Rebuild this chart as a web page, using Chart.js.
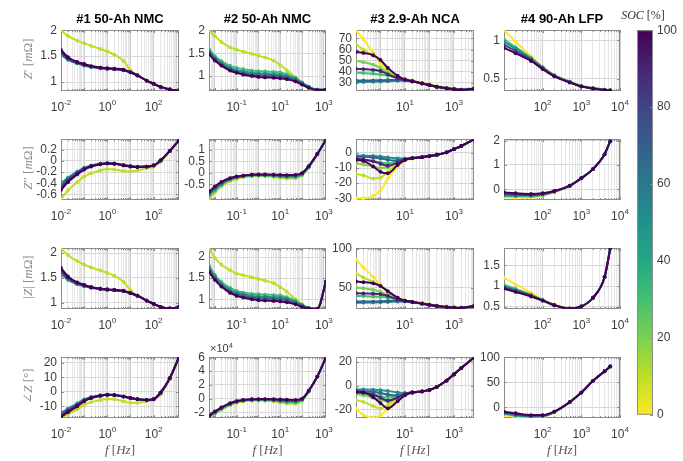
<!DOCTYPE html>
<html>
<head>
<meta charset="utf-8">
<title>Impedance spectra vs SOC</title>
<script src="https://cdn.jsdelivr.net/npm/chart.js@4.4.1/dist/chart.umd.min.js"></script>
<style>
  html, body { margin: 0; padding: 0; background: #fff; }
  #fig { position: relative; width: 683px; height: 461px; overflow: hidden; }
  #fig canvas { position: absolute; }
  .title { position: absolute; top: 12px; transform: translateX(-50%); font: bold 13px/13px "Liberation Sans", Arial, sans-serif; color: #000; white-space: nowrap; }
  .ylab { position: absolute; left: 27px; transform: translate(-50%, -50%) rotate(-90deg); font: 13px/13px "Liberation Serif", "DejaVu Serif", serif; color: #8c8c8c; white-space: nowrap; }
  .xlab { position: absolute; top: 443px; transform: translateX(-50%); font: 13px/13px "Liberation Serif", "DejaVu Serif", serif; color: #555; white-space: nowrap; }
  .cblab { position: absolute; left: 643px; top: 15px; transform: translate(-50%, -50%); font: 12px/12px "Liberation Serif", "DejaVu Serif", serif; color: #333; white-space: nowrap; }
  .mult { position: absolute; left: 210px; top: 343px; font: 11px/11px "Liberation Sans", Arial, sans-serif; color: #3c3c3c; white-space: nowrap; }
  .mult span { position: relative; top: -4px; font-size: 7.5px; }
</style>
</head>
<body>
<div id="fig"></div>
<script>
// ---- cell #1, 50-Ah NMC ----
const freq1 = [0.01, 0.02, 0.05, 0.1, 0.2, 0.5, 1, 2, 5, 10, 20, 50, 100, 200, 500, 1250];
const soc1 = [10, 50, 70, 90, 100];
const re1 = [
  [2.00, 1.89, 1.80, 1.75, 1.70, 1.64, 1.59, 1.53, 1.41, 1.23, 1.13, 1.03, 0.97, 0.91, 0.86, 0.83],
  [1.53, 1.43, 1.36, 1.32, 1.29, 1.27, 1.26, 1.25, 1.23, 1.19, 1.13, 1.03, 0.97, 0.91, 0.86, 0.83],
  [1.56, 1.45, 1.37, 1.33, 1.30, 1.27, 1.26, 1.25, 1.23, 1.19, 1.13, 1.03, 0.97, 0.91, 0.86, 0.83],
  [1.59, 1.47, 1.38, 1.34, 1.30, 1.28, 1.26, 1.25, 1.23, 1.19, 1.13, 1.03, 0.97, 0.91, 0.86, 0.83],
  [1.62, 1.48, 1.39, 1.35, 1.31, 1.28, 1.27, 1.26, 1.24, 1.19, 1.13, 1.03, 0.97, 0.91, 0.86, 0.83]
];
const im1 = [
  [-0.68, -0.53, -0.38, -0.28, -0.22, -0.17, -0.145, -0.155, -0.18, -0.19, -0.17, -0.13, -0.10, -0.02, 0.18, 0.37],
  [-0.40, -0.30, -0.19, -0.12, -0.08, -0.05, -0.04, -0.045, -0.07, -0.09, -0.10, -0.10, -0.08, 0.01, 0.18, 0.37],
  [-0.45, -0.33, -0.21, -0.135, -0.09, -0.055, -0.042, -0.047, -0.075, -0.095, -0.105, -0.10, -0.08, 0.01, 0.18, 0.37],
  [-0.49, -0.36, -0.23, -0.145, -0.095, -0.058, -0.044, -0.048, -0.078, -0.098, -0.108, -0.10, -0.08, 0.01, 0.18, 0.37],
  [-0.52, -0.38, -0.24, -0.155, -0.10, -0.06, -0.045, -0.05, -0.08, -0.10, -0.11, -0.10, -0.08, 0.01, 0.18, 0.37]
];
const mag1 = [
  [2.10, 1.96, 1.84, 1.77, 1.71, 1.65, 1.60, 1.54, 1.42, 1.25, 1.14, 1.04, 0.975, 0.91, 0.88, 0.91],
  [1.58, 1.46, 1.37, 1.33, 1.30, 1.27, 1.26, 1.25, 1.23, 1.19, 1.14, 1.04, 0.975, 0.91, 0.88, 0.91],
  [1.62, 1.49, 1.39, 1.34, 1.31, 1.28, 1.26, 1.25, 1.23, 1.19, 1.14, 1.04, 0.975, 0.91, 0.88, 0.91],
  [1.66, 1.51, 1.40, 1.35, 1.31, 1.28, 1.26, 1.25, 1.23, 1.19, 1.14, 1.04, 0.975, 0.91, 0.88, 0.91],
  [1.70, 1.53, 1.41, 1.36, 1.31, 1.28, 1.27, 1.26, 1.24, 1.19, 1.14, 1.04, 0.975, 0.91, 0.88, 0.91]
];
const ph1 = [
  [-18, -15.5, -12, -9, -7, -5.5, -4.8, -5, -6.5, -7.5, -7.5, -6.5, -5.5, -2, 9, 24],
  [-14.5, -11.5, -8, -5.2, -3.5, -2.3, -1.8, -2, -3, -4.2, -5, -5.5, -5, -0.5, 9.5, 24],
  [-15.5, -12.3, -8.7, -5.7, -3.8, -2.5, -1.9, -2.1, -3.1, -4.2, -5, -5.5, -5, -0.5, 9.5, 24],
  [-16.8, -13.3, -9.4, -6.2, -4.1, -2.6, -2, -2.2, -3.2, -4.2, -5, -5.5, -5, -0.5, 9.5, 24],
  [-17.5, -14, -10, -6.5, -4.3, -2.7, -2, -2.2, -3.2, -4.2, -5, -5.5, -5, -0.5, 9.5, 24]
];

// ---- cell #2, 50-Ah NMC ----
const freq2 = [0.0054, 0.01, 0.02, 0.05, 0.1, 0.2, 0.5, 1, 2, 5, 10, 20, 50, 100, 200, 500, 1250];
const soc2 = [10, 30, 50, 70, 100];
const re2 = [
  [2.00, 1.88, 1.75, 1.63, 1.58, 1.54, 1.49, 1.45, 1.41, 1.34, 1.24, 1.13, 0.97, 0.85, 0.76, 0.70, 0.70],
  [1.60, 1.44, 1.33, 1.23, 1.18, 1.15, 1.12, 1.11, 1.10, 1.09, 1.08, 1.04, 0.96, 0.86, 0.77, 0.70, 0.70],
  [1.56, 1.40, 1.29, 1.18, 1.13, 1.10, 1.07, 1.06, 1.05, 1.04, 1.03, 1.00, 0.94, 0.85, 0.76, 0.70, 0.70],
  [1.52, 1.37, 1.26, 1.15, 1.10, 1.06, 1.03, 1.02, 1.01, 1.00, 0.99, 0.97, 0.91, 0.83, 0.75, 0.70, 0.70],
  [1.48, 1.34, 1.23, 1.12, 1.07, 1.03, 1.00, 0.98, 0.97, 0.96, 0.95, 0.93, 0.88, 0.81, 0.74, 0.69, 0.70]
];
const im2 = [
  [-1.15, -0.87, -0.60, -0.36, -0.26, -0.19, -0.15, -0.14, -0.15, -0.18, -0.22, -0.25, -0.24, -0.12, 0.22, 0.80, 1.45],
  [-1.02, -0.78, -0.53, -0.31, -0.22, -0.16, -0.12, -0.11, -0.12, -0.14, -0.17, -0.20, -0.19, -0.08, 0.24, 0.81, 1.45],
  [-0.95, -0.72, -0.49, -0.28, -0.20, -0.14, -0.10, -0.09, -0.10, -0.12, -0.14, -0.16, -0.15, -0.05, 0.26, 0.82, 1.45],
  [-0.89, -0.66, -0.45, -0.26, -0.18, -0.13, -0.09, -0.08, -0.08, -0.10, -0.11, -0.13, -0.12, -0.03, 0.27, 0.82, 1.45],
  [-0.83, -0.60, -0.40, -0.23, -0.16, -0.12, -0.08, -0.07, -0.07, -0.08, -0.09, -0.10, -0.09, -0.01, 0.29, 0.83, 1.45]
];
const mag2 = [
  [2.20, 1.98, 1.82, 1.69, 1.61, 1.57, 1.52, 1.48, 1.44, 1.38, 1.29, 1.18, 1.00, 0.88, 0.80, 0.78, 1.42],
  [1.80, 1.58, 1.41, 1.27, 1.20, 1.16, 1.13, 1.12, 1.11, 1.10, 1.09, 1.05, 0.97, 0.87, 0.80, 0.78, 1.42],
  [1.75, 1.54, 1.37, 1.22, 1.16, 1.12, 1.08, 1.07, 1.06, 1.05, 1.04, 1.01, 0.94, 0.86, 0.79, 0.78, 1.42],
  [1.70, 1.50, 1.33, 1.18, 1.12, 1.08, 1.04, 1.03, 1.02, 1.01, 1.00, 0.98, 0.91, 0.84, 0.79, 0.77, 1.42],
  [1.65, 1.46, 1.30, 1.15, 1.08, 1.04, 1.00, 0.98, 0.97, 0.96, 0.95, 0.93, 0.88, 0.82, 0.78, 0.77, 1.42]
];
// phase of cell #2 is given in units of 1e4
const ph2 = [
  [-2.75, -2.2, -1.6, -0.95, -0.6, -0.4, -0.3, -0.28, -0.3, -0.4, -0.55, -0.7, -0.75, -0.3, 1.0, 3.2, 6.0],
  [-2.65, -2.1, -1.5, -0.85, -0.5, -0.3, -0.2, -0.18, -0.2, -0.28, -0.4, -0.5, -0.55, -0.2, 1.05, 3.2, 6.0],
  [-2.6, -2.0, -1.4, -0.78, -0.45, -0.26, -0.15, -0.13, -0.14, -0.2, -0.3, -0.38, -0.4, -0.12, 1.1, 3.2, 6.0],
  [-2.55, -1.95, -1.35, -0.72, -0.4, -0.22, -0.12, -0.1, -0.1, -0.14, -0.2, -0.26, -0.28, -0.06, 1.12, 3.2, 6.0],
  [-2.45, -1.85, -1.25, -0.65, -0.35, -0.18, -0.08, -0.06, -0.06, -0.08, -0.12, -0.16, -0.18, 0.0, 1.15, 3.2, 6.0]
];

// ---- cell #3, 2.9-Ah NCA ----
const freq3 = [0.1, 0.2, 0.5, 1, 2, 5, 10, 20, 50, 100, 200, 500, 1000, 2000, 6600];
const soc3 = [0, 10, 20, 30, 50, 70, 90, 100];
const re3 = [
  [77, 69.5, 57, 47.7, 41, 35.5, 33, 31.5, 29.5, 28, 26.6, 25.2, 24.4, 23.8, 25],
  [64.9, 60, 54.3, 49.8, 42, 36, 33.4, 31.9, 29.9, 28.4, 27, 25.6, 24.8, 24.2, 25.3],
  [49.8, 48.6, 46.3, 43.4, 39.2, 35, 32.8, 31.3, 29.4, 27.9, 26.4, 25, 24.2, 23.6, 24.7],
  [39.2, 38.8, 38.2, 37.5, 36.3, 34, 32.5, 31.2, 29.3, 27.8, 26.3, 24.9, 24.1, 23.5, 24.6],
  [30.5, 30.6, 30.8, 31, 31.3, 31.8, 32, 31, 29.2, 27.8, 26.3, 24.9, 24.1, 23.5, 24.6],
  [32, 32, 32, 32.2, 32.5, 32.5, 32.3, 31.2, 29.3, 27.8, 26.3, 24.9, 24.1, 23.5, 24.6],
  [42.6, 42.3, 41.6, 40.6, 37.6, 34.2, 32.6, 31.3, 29.4, 27.8, 26.3, 24.9, 24.1, 23.5, 24.6],
  [57.7, 56.9, 54.9, 50.6, 43.4, 36.3, 33, 31.4, 29.4, 27.8, 26.3, 24.9, 24.1, 23.5, 24.6]
];
const im3 = [
  [-30, -30, -28.5, -25, -17, -9, -5, -3.8, -2.9, -2.2, -1.2, 0.4, 2.5, 4.6, 9],
  [-14, -14.8, -17, -16.5, -12.5, -7, -4.5, -3.6, -2.8, -2.1, -1.2, 0.4, 2.5, 4.6, 9],
  [-7, -7.6, -9, -10, -9.5, -6.2, -4.3, -3.5, -2.8, -2.1, -1.2, 0.4, 2.5, 4.6, 9],
  [-4.5, -4.8, -5.5, -6.3, -7, -5.5, -4.1, -3.5, -2.8, -2.1, -1.2, 0.4, 2.5, 4.6, 9],
  [-1.8, -1.8, -2, -2.4, -3, -3.6, -3.8, -3.4, -2.8, -2.1, -1.2, 0.4, 2.5, 4.6, 9],
  [-2.5, -2.6, -3, -3.6, -4.6, -5, -4, -3.5, -2.8, -2.1, -1.2, 0.4, 2.5, 4.6, 9],
  [-4, -4.3, -5.5, -7.2, -8.5, -6.5, -4.3, -3.5, -2.8, -2.1, -1.2, 0.4, 2.5, 4.6, 9],
  [-4.7, -5.3, -8.9, -12.5, -13.5, -8, -4.7, -3.5, -2.8, -2.1, -1.2, 0.4, 2.5, 4.6, 9]
];
const mag3 = [
  [86, 76, 64, 54, 44.5, 36.5, 33.5, 31.7, 29.6, 28.1, 26.7, 25.4, 24.7, 24.3, 26.5],
  [68, 63, 57.5, 52.5, 44, 36.8, 33.6, 32, 30, 28.5, 27.1, 25.8, 25, 24.6, 26.8],
  [50.3, 49.2, 47.2, 44.5, 40.3, 35.5, 33.1, 31.6, 29.5, 28, 26.5, 25.2, 24.5, 24.1, 26.3],
  [39.5, 39.1, 38.6, 38, 37, 34.4, 32.8, 31.5, 29.4, 27.9, 26.4, 25.1, 24.3, 24, 26.2],
  [30.6, 30.7, 30.9, 31.1, 31.4, 32, 32.2, 31.2, 29.3, 27.9, 26.3, 24.9, 24.2, 23.9, 26.2],
  [32.1, 32.1, 32.1, 32.4, 32.8, 32.9, 32.5, 31.4, 29.4, 27.9, 26.3, 24.9, 24.2, 23.9, 26.2],
  [42.8, 42.5, 42.2, 41.6, 39.4, 34.6, 32.8, 31.5, 29.5, 27.9, 26.3, 24.9, 24.2, 23.9, 26.2],
  [57.9, 57.1, 55.6, 52.1, 45.4, 37.2, 33.3, 31.6, 29.5, 27.9, 26.3, 24.9, 24.2, 23.9, 26.2]
];
const ph3 = [
  [-19.5, -24.5, -27, -25, -19, -11, -7, -5.8, -4.9, -3.6, -1, 4.3, 9.5, 15, 24],
  [-12, -13.5, -17, -19, -16, -10, -7, -5.7, -4.8, -3.5, -0.9, 4.4, 9.6, 15, 24],
  [-7, -8, -10, -12, -13, -9, -6.5, -5.5, -4.7, -3.4, -0.8, 4.5, 9.7, 15, 24],
  [-5.5, -6, -7, -8.5, -10, -8.5, -6.5, -5.5, -4.7, -3.4, -0.8, 4.5, 9.7, 15, 24],
  [-3, -3, -3.2, -3.6, -4.3, -5.5, -6, -5.5, -4.7, -3.4, -0.8, 4.5, 9.7, 15, 24],
  [-4.5, -4.6, -5, -6, -7.5, -8, -6.5, -5.5, -4.7, -3.4, -0.8, 4.5, 9.7, 15, 24],
  [-5.5, -5.8, -7.5, -10, -12.5, -10, -7, -5.5, -4.7, -3.4, -0.8, 4.5, 9.7, 15, 24],
  [-4.7, -5.5, -9.5, -14.5, -19, -13, -8, -5.6, -4.7, -3.4, -0.8, 4.5, 9.7, 15, 24]
];

// ---- cell #4, 90-Ah LFP ----
const freq4 = [10, 20, 50, 100, 200, 500, 1000, 2000, 4000, 5600];
const soc4 = [0, 30, 50, 80, 100];
const re4 = [
  [1.13, 0.98, 0.79, 0.65, 0.55, 0.465, 0.41, 0.38, 0.36, 0.355],
  [1.01, 0.91, 0.77, 0.65, 0.545, 0.46, 0.405, 0.378, 0.358, 0.352],
  [0.98, 0.89, 0.76, 0.645, 0.54, 0.46, 0.403, 0.376, 0.356, 0.35],
  [0.94, 0.86, 0.745, 0.635, 0.535, 0.455, 0.40, 0.374, 0.354, 0.348],
  [0.90, 0.83, 0.73, 0.625, 0.53, 0.45, 0.398, 0.372, 0.352, 0.346]
];
const im4 = [
  [-0.32, -0.34, -0.33, -0.26, -0.12, 0.13, 0.45, 0.83, 1.44, 1.98],
  [-0.27, -0.29, -0.29, -0.23, -0.10, 0.14, 0.45, 0.83, 1.44, 1.98],
  [-0.24, -0.26, -0.26, -0.21, -0.09, 0.14, 0.46, 0.83, 1.44, 1.98],
  [-0.19, -0.22, -0.23, -0.19, -0.08, 0.15, 0.46, 0.83, 1.44, 1.98],
  [-0.13, -0.16, -0.19, -0.16, -0.07, 0.15, 0.46, 0.83, 1.44, 1.98]
];
const mag4 = [
  [1.20, 1.04, 0.84, 0.68, 0.56, 0.47, 0.51, 0.72, 1.22, 1.91],
  [1.03, 0.93, 0.79, 0.665, 0.55, 0.465, 0.51, 0.72, 1.22, 1.91],
  [1.00, 0.91, 0.78, 0.66, 0.545, 0.463, 0.51, 0.72, 1.22, 1.91],
  [0.97, 0.88, 0.765, 0.655, 0.542, 0.46, 0.51, 0.72, 1.22, 1.91],
  [0.94, 0.86, 0.75, 0.65, 0.54, 0.46, 0.51, 0.72, 1.22, 1.91]
];
const ph4 = [
  [-15, -19, -20.5, -19.5, -10, 10, 29.6, 53, 72, 81.6],
  [-12.5, -16.5, -18.5, -17.5, -9.2, 10.3, 29.6, 53, 72, 81.6],
  [-11.5, -15, -17.5, -17, -9, 10.4, 29.6, 53, 72, 81.6],
  [-10, -13.5, -16.5, -16, -8.6, 10.5, 29.6, 53, 72, 81.6],
  [-8.5, -11.4, -15.2, -15.2, -8.3, 10.6, 29.6, 53, 72, 81.6]
];

// ---- axes ----
const cellTitles = ['#1 50-Ah NMC', '#2 50-Ah NMC', '#3 2.9-Ah NCA', '#4 90-Ah LFP'];
const rowLabels = ['<i>Z</i>′ [<i>m</i>Ω]', '<i>Z</i>″ [<i>m</i>Ω]', '|<i>Z</i>| [<i>m</i>Ω]', '∠<i>Z</i> [°]'];
const xLims = [[0.01, 1250], [0.0054, 1250], [0.1, 6600], [10, 10000]];
const xLabelExps = [[-2, 0, 2], [-1, 1, 3], [1, 3], [2, 3, 4]];
const reLims = [[0.83, 2.0], [0.67, 2.01], [22.5, 77.5], [0.34, 1.13]];
const imLims = [[-0.7, 0.39], [-1.19, 1.47], [-31.2, 9.1], [-0.44, 2.06]];
const magLims = [[0.87, 2.1], [0.77, 2.21], [22.5, 100.8], [0.45, 1.91]];
const phLims = [[-18, 24], [-2.8, 6], [-27.1, 24.2], [-21, 100]];
const reTicks = [[1, 1.5, 2], [1, 1.5, 2], [30, 40, 50, 60, 70], [0.5, 1]];
const imTicks = [[-0.6, -0.4, -0.2, 0, 0.2], [-0.5, 0, 0.5, 1], [-30, -20, -10, 0], [0, 1, 2]];
const magTicks = [[1, 1.5, 2], [1, 1.5, 2], [50, 100], [0.5, 1, 1.5]];
const phTicks = [[-10, 0, 10, 20], [-2, 0, 2, 4, 6], [-20, 0, 20], [0, 50, 100]];
const socTicks = [0, 20, 40, 60, 80, 100];

// viridis, indexed by SOC / 10 (0 % yellow -> 100 % dark purple)
const viridis = ['#fde725', '#bddf26', '#7ad151', '#44bf70', '#22a884', '#21918c', '#2a788e', '#355f8d', '#414487', '#482475', '#440154'];
const socColor = (soc) => viridis[Math.round(soc / 10)];

const plotLeft = [61, 209, 356, 504];
const plotWidth = [118, 117, 118, 116];
const plotTop = [27, 136, 245, 354];
const plotHeight = 64;

const tickColor = '#3c3c3c';
const sans = '"Liberation Sans", Arial, sans-serif';
Chart.defaults.font.family = sans;
Chart.defaults.font.size = 12;
Chart.defaults.color = tickColor;

const fig = document.getElementById('fig');

const cols = [
  { freq: freq1, soc: soc1, rows: [re1, im1, mag1, ph1] },
  { freq: freq2, soc: soc2, rows: [re2, im2, mag2, ph2] },
  { freq: freq3, soc: soc3, rows: [re3, im3, mag3, ph3] },
  { freq: freq4, soc: soc4, rows: [re4, im4, mag4, ph4] }
];
const rowLims = [reLims, imLims, magLims, phLims];
const rowTicks = [reTicks, imTicks, magTicks, phTicks];

// minor/major grid positions k*10^n inside the axis range
function logTicks(min, max) {
  const out = [];
  for (let e = Math.floor(Math.log10(min)); e <= Math.ceil(Math.log10(max)); e++) {
    for (let k = 1; k <= 9; k++) {
      const v = k * Math.pow(10, e);
      if (v >= min * 0.999 && v <= max * 1.001) out.push({ value: v, major: k === 1 });
    }
  }
  return out;
}

// box around the axes with inward tick marks
const frameBox = {
  id: 'frameBox',
  beforeDatasetsDraw(chart) {
    const { ctx, chartArea: a, scales } = chart;
    ctx.save();
    ctx.strokeStyle = '#8c8c8c';
    ctx.lineWidth = 1;
    ctx.beginPath();
    scales.x.ticks.forEach((t) => {
      const px = Math.round(scales.x.getPixelForValue(t.value)) + 0.5;
      const len = t.major ? 3 : 2;
      ctx.moveTo(px, a.bottom); ctx.lineTo(px, a.bottom - len);
      ctx.moveTo(px, a.top); ctx.lineTo(px, a.top + len);
    });
    scales.y.ticks.forEach((t) => {
      const py = Math.round(scales.y.getPixelForValue(t.value)) + 0.5;
      ctx.moveTo(a.left, py); ctx.lineTo(a.left + 3, py);
      ctx.moveTo(a.right, py); ctx.lineTo(a.right - 3, py);
    });
    ctx.stroke();
    ctx.strokeRect(Math.round(a.left) + 0.5, Math.round(a.top) + 0.5, Math.round(a.width) - 1, Math.round(a.height) - 1);
    ctx.restore();
  }
};

// "10^n" labels under the log axis
const expLabels = {
  id: 'expLabels',
  afterDraw(chart, args, opts) {
    const { ctx, chartArea: a } = chart;
    const xs = chart.scales.x;
    ctx.save();
    ctx.fillStyle = tickColor;
    ctx.textBaseline = 'alphabetic';
    opts.exps.forEach((e) => {
      const px = xs.getPixelForValue(Math.pow(10, e));
      const sup = String(e);
      ctx.font = '12px ' + sans;
      const wBase = ctx.measureText('10').width;
      ctx.font = '8px ' + sans;
      const wSup = ctx.measureText(sup).width;
      const x0 = px - (wBase + wSup) / 2;
      const y0 = a.bottom + 20;
      ctx.font = '12px ' + sans;
      ctx.fillText('10', x0, y0);
      ctx.font = '8px ' + sans;
      ctx.fillText(sup, x0 + wBase, y0 - 6);
    });
    ctx.restore();
  }
};

function makeCell(ci, ri) {
  const c = cols[ci];
  const values = c.rows[ri];
  const W = plotWidth[ci];
  const canvas = document.createElement('canvas');
  canvas.width = W + 62;
  canvas.height = plotHeight + 30;
  canvas.style.left = (plotLeft[ci] - 48) + 'px';
  canvas.style.top = (plotTop[ri] - 8) + 'px';
  fig.appendChild(canvas);

  // higher SOC drawn later, so the purple curves sit on top
  const datasets = c.soc.map((s, k) => ({
    data: c.freq.map((f, i) => ({ x: f, y: values[k][i] })),
    order: c.soc.length - k,
    borderColor: socColor(s),
    backgroundColor: socColor(s),
    borderWidth: 2,
    pointRadius: 1.9,
    pointBorderWidth: 0,
    cubicInterpolationMode: 'monotone'
  }));

  const [xMin, xMax] = xLims[ci];
  const [yMin, yMax] = rowLims[ri][ci];
  const yTicks = rowTicks[ri][ci];

  new Chart(canvas, {
    type: 'line',
    data: { datasets },
    options: {
      responsive: false,
      animation: false,
      devicePixelRatio: 1,
      events: [],
      layout: { padding: { top: 8, right: 14, left: 0, bottom: 0 } },
      plugins: {
        legend: { display: false },
        tooltip: { enabled: false },
        expLabels: { exps: xLabelExps[ci] }
      },
      scales: {
        x: {
          type: 'logarithmic',
          min: xMin,
          max: xMax,
          afterBuildTicks: (s) => { s.ticks = logTicks(xMin, xMax); },
          afterFit: (s) => { s.height = 22; },
          ticks: { display: false },
          grid: {
            drawTicks: false,
            color: (ctx) => (ctx.tick && ctx.tick.major ? '#d0d0d0' : '#e6e6e6')
          },
          border: { display: false }
        },
        y: {
          min: yMin,
          max: yMax,
          afterBuildTicks: (s) => { s.ticks = yTicks.map((v) => ({ value: v })); },
          afterFit: (s) => { s.width = 48; },
          ticks: { padding: 4, autoSkip: false, callback: (v) => String(v) },
          grid: { drawTicks: false, color: '#d8d8d8' },
          border: { display: false }
        }
      }
    },
    plugins: [frameBox, expLabels]
  });
}

for (let ri = 0; ri < 4; ri++) {
  for (let ci = 0; ci < 4; ci++) makeCell(ci, ri);
}

// colour bar
const colorRamp = {
  id: 'colorRamp',
  beforeDatasetsDraw(chart) {
    const { ctx, chartArea: a, scales } = chart;
    const g = ctx.createLinearGradient(0, a.top, 0, a.bottom);
    for (let i = 0; i <= 10; i++) g.addColorStop(i / 10, viridis[10 - i]);
    ctx.save();
    ctx.fillStyle = g;
    ctx.fillRect(a.left, a.top, a.width, a.height);
    ctx.strokeStyle = '#8c8c8c';
    ctx.lineWidth = 1;
    ctx.strokeRect(a.left + 0.5, a.top + 0.5, a.width - 1, a.height - 1);
    ctx.beginPath();
    scales.y.ticks.forEach((t) => {
      const py = Math.round(scales.y.getPixelForValue(t.value)) + 0.5;
      ctx.moveTo(a.right, py); ctx.lineTo(a.right - 3, py);
    });
    ctx.stroke();
    ctx.restore();
  }
};

const cb = document.createElement('canvas');
cb.width = 46;
cb.height = 407;
cb.style.left = '637px';
cb.style.top = '19px';
fig.appendChild(cb);
new Chart(cb, {
  type: 'line',
  data: { datasets: [] },
  options: {
    responsive: false,
    animation: false,
    devicePixelRatio: 1,
    events: [],
    layout: { padding: { top: 8, bottom: 8, left: 0, right: 0 } },
    plugins: { legend: { display: false }, tooltip: { enabled: false } },
    scales: {
      x: { display: false },
      y: {
        position: 'right',
        min: 0,
        max: 100,
        afterBuildTicks: (s) => { s.ticks = socTicks.map((v) => ({ value: v })); },
        afterFit: (s) => { s.width = 30; },
        ticks: { padding: 4, autoSkip: false },
        grid: { display: false, drawTicks: false },
        border: { display: false }
      }
    }
  },
  plugins: [colorRamp]
});

// text around the grid
cellTitles.forEach((t, ci) => {
  const d = document.createElement('div');
  d.className = 'title';
  d.textContent = t;
  d.style.left = (plotLeft[ci] + plotWidth[ci] / 2) + 'px';
  fig.appendChild(d);

  const f = document.createElement('div');
  f.className = 'xlab';
  f.innerHTML = '<i>f</i> [<i>Hz</i>]';
  f.style.left = (plotLeft[ci] + plotWidth[ci] / 2) + 'px';
  fig.appendChild(f);
});
rowLabels.forEach((t, ri) => {
  const d = document.createElement('div');
  d.className = 'ylab';
  d.innerHTML = t;
  d.style.top = (plotTop[ri] + plotHeight / 2) + 'px';
  fig.appendChild(d);
});
const cbl = document.createElement('div');
cbl.className = 'cblab';
cbl.innerHTML = '<i>SOC</i> [%]';
fig.appendChild(cbl);
const mult = document.createElement('div');
mult.className = 'mult';
mult.innerHTML = '×10<span>4</span>';
fig.appendChild(mult);
</script>
</body>
</html>
